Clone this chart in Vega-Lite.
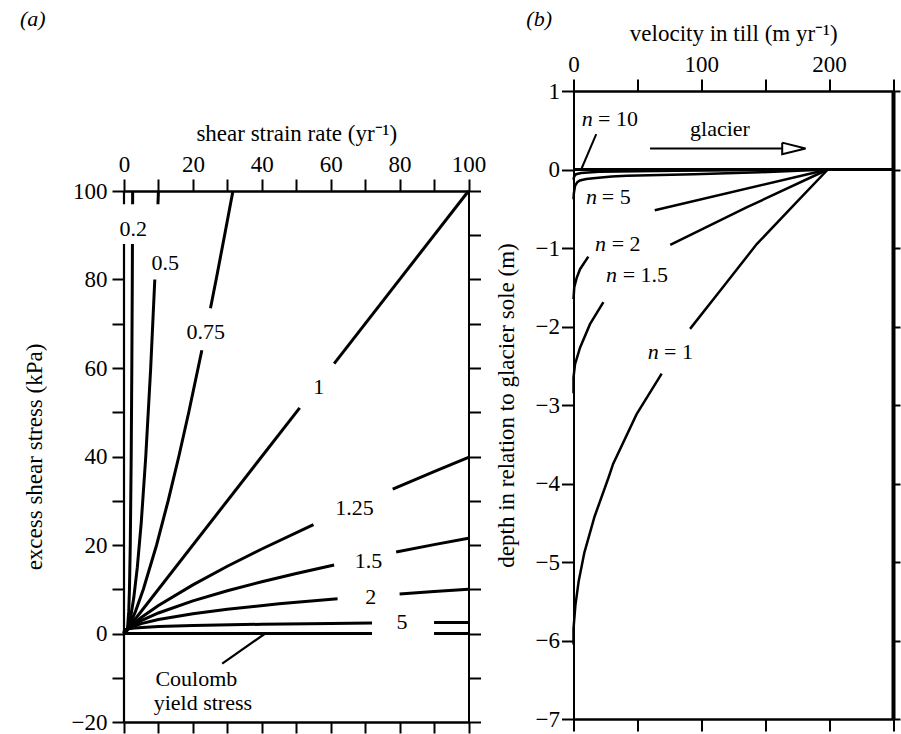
{
  "$schema": "https://vega.github.io/schema/vega-lite/v6.json",
  "padding": {"left": 19, "top": 8, "right": 0, "bottom": 0},
  "spacing": 449.5,
  "bounds": "flush",
  "hconcat": [
    {
      "bounds": "flush",
      "spacing": 50,
      "vconcat": [
        {
          "width": 344.5,
          "height": 50,
          "data": {"values": []},
          "mark": "point"
        },
        {
          "width": 344.5,
          "height": 531,
          "layer": [
            {
              "data": {"values": [
                {"s":"p02a","i":0,"x":0,"y":0},{"s":"p02a","i":1,"x":0.4,"y":0.01},{"s":"p02a","i":2,"x":0.63,"y":0.1},{"s":"p02a","i":3,"x":1,"y":1},{"s":"p02a","i":4,"x":1.38,"y":5},{"s":"p02a","i":5,"x":1.58,"y":10},{"s":"p02a","i":6,"x":1.82,"y":20},{"s":"p02a","i":7,"x":2.09,"y":40},{"s":"p02a","i":8,"x":2.27,"y":60},{"s":"p02a","i":9,"x":2.41,"y":80},{"s":"p02a","i":10,"x":2.45,"y":88},
                {"s":"p02b","i":0,"x":2.497,"y":97},{"s":"p02b","i":1,"x":2.512,"y":100},
                {"s":"p05a","i":0,"x":0,"y":0},{"s":"p05a","i":1,"x":0.1,"y":0.01},{"s":"p05a","i":2,"x":0.316,"y":0.1},{"s":"p05a","i":3,"x":0.707,"y":0.5},{"s":"p05a","i":4,"x":1,"y":1},{"s":"p05a","i":5,"x":1.414,"y":2},{"s":"p05a","i":6,"x":2,"y":4},{"s":"p05a","i":7,"x":2.83,"y":8},{"s":"p05a","i":8,"x":3.87,"y":15},{"s":"p05a","i":9,"x":5,"y":25},{"s":"p05a","i":10,"x":6.32,"y":40},{"s":"p05a","i":11,"x":7.75,"y":60},{"s":"p05a","i":12,"x":8.94,"y":80},
                {"s":"p05b","i":0,"x":9.85,"y":97},{"s":"p05b","i":1,"x":10,"y":100},
                {"s":"p075a","i":0,"x":0,"y":0},{"s":"p075a","i":1,"x":0.178,"y":0.1},{"s":"p075a","i":2,"x":0.595,"y":0.5},{"s":"p075a","i":3,"x":1,"y":1},{"s":"p075a","i":4,"x":1.68,"y":2},{"s":"p075a","i":5,"x":3.34,"y":5},{"s":"p075a","i":6,"x":5.62,"y":10},{"s":"p075a","i":7,"x":9.46,"y":20},{"s":"p075a","i":8,"x":12.82,"y":30},{"s":"p075a","i":9,"x":15.91,"y":40},{"s":"p075a","i":10,"x":18.8,"y":50},{"s":"p075a","i":11,"x":22.6,"y":64},
                {"s":"p075b","i":0,"x":25.1,"y":73.5},{"s":"p075b","i":1,"x":26.75,"y":80},{"s":"p075b","i":2,"x":29.2,"y":90},{"s":"p075b","i":3,"x":31.62,"y":100},
                {"s":"p1a","i":0,"x":0,"y":0},{"s":"p1a","i":1,"x":51,"y":51},
                {"s":"p1b","i":0,"x":61,"y":61},{"s":"p1b","i":1,"x":100,"y":100},
                {"s":"p125a","i":0,"x":0,"y":0},{"s":"p125a","i":1,"x":0.5,"y":0.574},{"s":"p125a","i":2,"x":1,"y":1},{"s":"p125a","i":3,"x":2,"y":1.74},{"s":"p125a","i":4,"x":5,"y":3.62},{"s":"p125a","i":5,"x":10,"y":6.31},{"s":"p125a","i":6,"x":20,"y":10.99},{"s":"p125a","i":7,"x":30,"y":15.2},{"s":"p125a","i":8,"x":40,"y":19.1},{"s":"p125a","i":9,"x":55,"y":24.6},
                {"s":"p125b","i":0,"x":78,"y":32.6},{"s":"p125b","i":1,"x":90,"y":36.6},{"s":"p125b","i":2,"x":100,"y":39.8},
                {"s":"p15a","i":0,"x":0,"y":0},{"s":"p15a","i":1,"x":0.5,"y":0.63},{"s":"p15a","i":2,"x":1,"y":1},{"s":"p15a","i":3,"x":2,"y":1.587},{"s":"p15a","i":4,"x":5,"y":2.92},{"s":"p15a","i":5,"x":10,"y":4.64},{"s":"p15a","i":6,"x":20,"y":7.37},{"s":"p15a","i":7,"x":30,"y":9.65},{"s":"p15a","i":8,"x":40,"y":11.7},{"s":"p15a","i":9,"x":50,"y":13.57},{"s":"p15a","i":10,"x":61,"y":15.5},
                {"s":"p15b","i":0,"x":79,"y":18.41},{"s":"p15b","i":1,"x":90,"y":20.08},{"s":"p15b","i":2,"x":100,"y":21.54},
                {"s":"p2a","i":0,"x":0,"y":0},{"s":"p2a","i":1,"x":0.25,"y":0.5},{"s":"p2a","i":2,"x":1,"y":1},{"s":"p2a","i":3,"x":2,"y":1.414},{"s":"p2a","i":4,"x":5,"y":2.236},{"s":"p2a","i":5,"x":10,"y":3.16},{"s":"p2a","i":6,"x":20,"y":4.47},{"s":"p2a","i":7,"x":30,"y":5.48},{"s":"p2a","i":8,"x":45,"y":6.71},{"s":"p2a","i":9,"x":62,"y":7.87},
                {"s":"p2b","i":0,"x":80,"y":8.94},{"s":"p2b","i":1,"x":90,"y":9.49},{"s":"p2b","i":2,"x":100,"y":10},
                {"s":"p5a","i":0,"x":0,"y":0},{"s":"p5a","i":1,"x":0.01,"y":0.398},{"s":"p5a","i":2,"x":0.1,"y":0.631},{"s":"p5a","i":3,"x":0.5,"y":0.87},{"s":"p5a","i":4,"x":1,"y":1},{"s":"p5a","i":5,"x":3,"y":1.246},{"s":"p5a","i":6,"x":10,"y":1.585},{"s":"p5a","i":7,"x":20,"y":1.82},{"s":"p5a","i":8,"x":40,"y":2.09},{"s":"p5a","i":9,"x":60,"y":2.27},{"s":"p5a","i":10,"x":72,"y":2.35},
                {"s":"p5b","i":0,"x":90,"y":2.46},{"s":"p5b","i":1,"x":100,"y":2.51},
                {"s":"ca","i":0,"x":0,"y":0},{"s":"ca","i":1,"x":72,"y":0},
                {"s":"cb","i":0,"x":90,"y":0},{"s":"cb","i":1,"x":100,"y":0}
              ]},
              "mark": {"type": "line", "strokeWidth": 3, "color": "black"},
              "encoding": {
                "x": {"field": "x", "type": "quantitative", "scale": {"domain": [0, 100], "nice": false, "zero": false},
                      "axis": {"orient": "top", "values": [0,10,20,30,40,50,60,70,80,90,100], "labelExpr": "datum.value % 20 === 0 ? datum.label : ''", "title": "shear strain rate (yr⁻¹)", "domainWidth": 2.5, "titlePadding": 8}},
                "y": {"field": "y", "type": "quantitative", "scale": {"domain": [-20, 100], "nice": false, "zero": false},
                      "axis": {"orient": "left", "domain": false, "values": [-20,-10,0,10,20,30,40,50,60,70,80,100], "labelExpr": "datum.value % 20 === 0 ? datum.label : ''", "title": "excess shear stress (kPa)", "titlePadding": 25, "labelPadding": 5}},
                "detail": {"field": "s"},
                "order": {"field": "i", "type": "quantitative"}
              }
            },
            {
              "data": {"values": [
                {"t":"0.2","x":2.7,"y":91.5},{"t":"0.5","x":12,"y":83.8},{"t":"0.75","x":23.7,"y":68.1},{"t":"1","x":56.5,"y":55.7},{"t":"1.25","x":66.9,"y":28.4},{"t":"1.5","x":71,"y":16.4},{"t":"2","x":71.6,"y":8.3},{"t":"5","x":80.7,"y":2.5},{"t":"Coulomb","x":21,"y":-10.2},{"t":"yield stress","x":22.9,"y":-15.8}
              ]},
              "mark": {"type": "text", "align": "center", "baseline": "middle"},
              "encoding": {
                "x": {"field": "x", "type": "quantitative", "axis": {"orient": "bottom", "values": [0,10,20,30,40,50,60,70,80,90,100], "labels": false, "title": null, "domainWidth": 2.5, "tickSize": 11}},
                "y": {"field": "y", "type": "quantitative", "axis": {"orient": "right", "values": [-20,-10,0,10,20,30,40,50,60,70,80,90,100], "labels": false, "title": null}},
                "text": {"field": "t"}
              }
            },
            {
              "data": {"values": [{"t":"(a)","x":-26.5,"y":138.87}]},
              "mark": {"type": "text", "align": "center", "baseline": "middle", "fontStyle": "italic"},
              "encoding": {
                "x": {"field": "x", "type": "quantitative", "axis": null},
                "y": {"field": "y", "type": "quantitative", "axis": null},
                "text": {"field": "t"}
              }
            },
            {
              "data": {"values": [
                {"x":28.5,"y":-6.8,"x2":41,"y2":0},
                {"x":0,"y":-20,"x2":0,"y2":88},
                {"x":0,"y":97,"x2":0,"y2":100}
              ]},
              "mark": {"type": "rule", "strokeWidth": 2.2, "color": "black"},
              "encoding": {
                "x": {"field": "x", "type": "quantitative", "axis": null},
                "y": {"field": "y", "type": "quantitative", "axis": null},
                "x2": {"field": "x2"},
                "y2": {"field": "y2"}
              }
            }
          ],
          "resolve": {"axis": {"x": "independent", "y": "independent"}}
        }
      ]
    },
    {
      "width": 319.5,
      "height": 628,
      "layer": [
        {
          "data": {"values": [
            {"s":"n10","i":0,"x":0,"y":-0.13},{"s":"n10","i":1,"x":0.5,"y":-0.09},{"s":"n10","i":2,"x":2,"y":-0.06},{"s":"n10","i":3,"x":6,"y":-0.045},{"s":"n10","i":4,"x":20,"y":-0.03},{"s":"n10","i":5,"x":80,"y":-0.015},{"s":"n10","i":6,"x":199,"y":0},
            {"s":"n5","i":0,"x":0,"y":-0.38},{"s":"n5","i":1,"x":0.3,"y":-0.3},{"s":"n5","i":2,"x":1.2,"y":-0.21},{"s":"n5","i":3,"x":3,"y":-0.16},{"s":"n5","i":4,"x":5,"y":-0.14},{"s":"n5","i":5,"x":10,"y":-0.12},{"s":"n5","i":6,"x":15.5,"y":-0.11},{"s":"n5","i":7,"x":30,"y":-0.09},{"s":"n5","i":8,"x":41.7,"y":-0.08},{"s":"n5","i":9,"x":94,"y":-0.06},{"s":"n5","i":10,"x":146,"y":-0.035},{"s":"n5","i":11,"x":199,"y":0},
            {"s":"n2a","i":0,"x":0,"y":-1.65},{"s":"n2a","i":1,"x":0.6,"y":-1.5},{"s":"n2a","i":2,"x":2.5,"y":-1.38},{"s":"n2a","i":3,"x":5.1,"y":-1.27},{"s":"n2a","i":4,"x":11.6,"y":-1.11},
            {"s":"n2b","i":0,"x":63.6,"y":-0.52},{"s":"n2b","i":1,"x":199,"y":0},
            {"s":"n15a","i":0,"x":0,"y":-2.85},{"s":"n15a","i":1,"x":0,"y":-2.65},{"s":"n15a","i":2,"x":1.2,"y":-2.48},{"s":"n15a","i":3,"x":5.1,"y":-2.27},{"s":"n15a","i":4,"x":12.9,"y":-1.97},{"s":"n15a","i":5,"x":23.4,"y":-1.69},
            {"s":"n15b","i":0,"x":75.7,"y":-0.96},{"s":"n15b","i":1,"x":135.8,"y":-0.48},{"s":"n15b","i":2,"x":199,"y":0},
            {"s":"n1a","i":0,"x":0,"y":-6.05},{"s":"n1a","i":1,"x":0,"y":-5.85},{"s":"n1a","i":2,"x":1.5,"y":-5.55},{"s":"n1a","i":3,"x":4,"y":-5.25},{"s":"n1a","i":4,"x":8.5,"y":-4.88},{"s":"n1a","i":5,"x":16.5,"y":-4.42},{"s":"n1a","i":6,"x":27.5,"y":-3.92},{"s":"n1a","i":7,"x":31,"y":-3.75},{"s":"n1a","i":8,"x":49.3,"y":-3.12},{"s":"n1a","i":9,"x":69,"y":-2.6},
            {"s":"n1b","i":0,"x":91.2,"y":-2.03},{"s":"n1b","i":1,"x":117.8,"y":-1.48},{"s":"n1b","i":2,"x":143.4,"y":-0.95},{"s":"n1b","i":3,"x":174.4,"y":-0.42},{"s":"n1b","i":4,"x":199,"y":0}
          ]},
          "mark": {"type": "line", "strokeWidth": 2.5, "color": "black"},
          "encoding": {
            "x": {"field": "x", "type": "quantitative", "scale": {"domain": [0, 250], "nice": false, "zero": false},
                  "axis": {"orient": "top", "values": [0,50,100,150,200,250], "labelExpr": "datum.value % 100 === 0 ? datum.label : ''", "title": "velocity in till (m yr⁻¹)", "domainWidth": 2.5, "titlePadding": 8}},
            "y": {"field": "y", "type": "quantitative", "scale": {"domain": [-7, 1], "nice": false, "zero": false},
                  "axis": {"orient": "left", "values": [-7,-6,-5,-4,-3,-2,-1,0,1], "title": "depth in relation to glacier sole (m)", "titlePadding": 17, "labelPadding": 2}},
            "detail": {"field": "s"},
            "order": {"field": "i", "type": "quantitative"}
          }
        },
        {
          "data": {"values": [
            {"t":"= 10","x":19.2,"y":0.64},{"t":"= 5","x":22.1,"y":-0.344},{"t":"= 2","x":29.9,"y":-0.943},{"t":"= 1.5","x":38.5,"y":-1.34},{"t":"= 1","x":70.8,"y":-2.33},{"t":"glacier","x":91.2,"y":0.52}
          ]},
          "mark": {"type": "text", "align": "left", "baseline": "middle"},
          "encoding": {
            "x": {"field": "x", "type": "quantitative", "axis": {"orient": "bottom", "values": [0,50,100,150,200,250], "labels": false, "title": null, "domainWidth": 2.5}},
            "y": {"field": "y", "type": "quantitative", "axis": {"orient": "right", "values": [-7,-6,-5,-4,-3,-2,-1,0,1], "labels": false, "title": null, "domainWidth": 4, "tickSize": 7}},
            "text": {"field": "t"}
          }
        },
        {
          "data": {"values": [
            {"t":"n","x":6.4,"y":0.64},{"t":"n","x":9.8,"y":-0.344},{"t":"n","x":16.8,"y":-0.943},{"t":"n","x":25.4,"y":-1.34},{"t":"n","x":58.1,"y":-2.33},{"t":"(b)","x":-36.9,"y":1.915}
          ]},
          "mark": {"type": "text", "align": "left", "baseline": "middle", "fontStyle": "italic"},
          "encoding": {
            "x": {"field": "x", "type": "quantitative", "axis": null},
            "y": {"field": "y", "type": "quantitative", "axis": null},
            "text": {"field": "t"}
          }
        },
        {
          "data": {"values": [{"x":0,"x2":250,"y":0}]},
          "mark": {"type": "rule", "strokeWidth": 3, "color": "black"},
          "encoding": {
            "x": {"field": "x", "type": "quantitative", "axis": null},
            "x2": {"field": "x2"},
            "y": {"field": "y", "type": "quantitative", "axis": null}
          }
        },
        {
          "data": {"values": [
            {"s":"shaft","i":0,"x":59.9,"y":0.268},{"s":"shaft","i":1,"x":163.3,"y":0.268},
            {"s":"head","i":0,"x":163.3,"y":0.342},{"s":"head","i":1,"x":181.6,"y":0.268},{"s":"head","i":2,"x":163.3,"y":0.194},{"s":"head","i":3,"x":163.3,"y":0.342},
            {"s":"lead","i":0,"x":17.8,"y":0.45},{"s":"lead","i":1,"x":6,"y":0.0}
          ]},
          "mark": {"type": "line", "strokeWidth": 2, "color": "black"},
          "encoding": {
            "x": {"field": "x", "type": "quantitative", "axis": null},
            "y": {"field": "y", "type": "quantitative", "axis": null},
            "detail": {"field": "s"},
            "order": {"field": "i", "type": "quantitative"}
          }
        }
      ],
      "resolve": {"axis": {"x": "independent", "y": "independent"}}
    }
  ],
  "config": {
    "view": {"stroke": null},
    "font": "Liberation Serif",
    "axis": {"grid": false, "domainColor": "black", "tickColor": "black", "labelColor": "black", "titleColor": "black", "labelFont": "Liberation Serif", "titleFont": "Liberation Serif", "labelFontSize": 23, "titleFontSize": 23, "titleFontWeight": "normal", "tickSize": 12, "tickWidth": 2, "domainWidth": 2, "labelOverlap": false, "labelFlush": false, "labelBound": false, "labelPadding": 3},
    "text": {"font": "Liberation Serif", "fontSize": 22, "color": "black"},
    "line": {"color": "black"},
    "rule": {"color": "black"}
  }
}
